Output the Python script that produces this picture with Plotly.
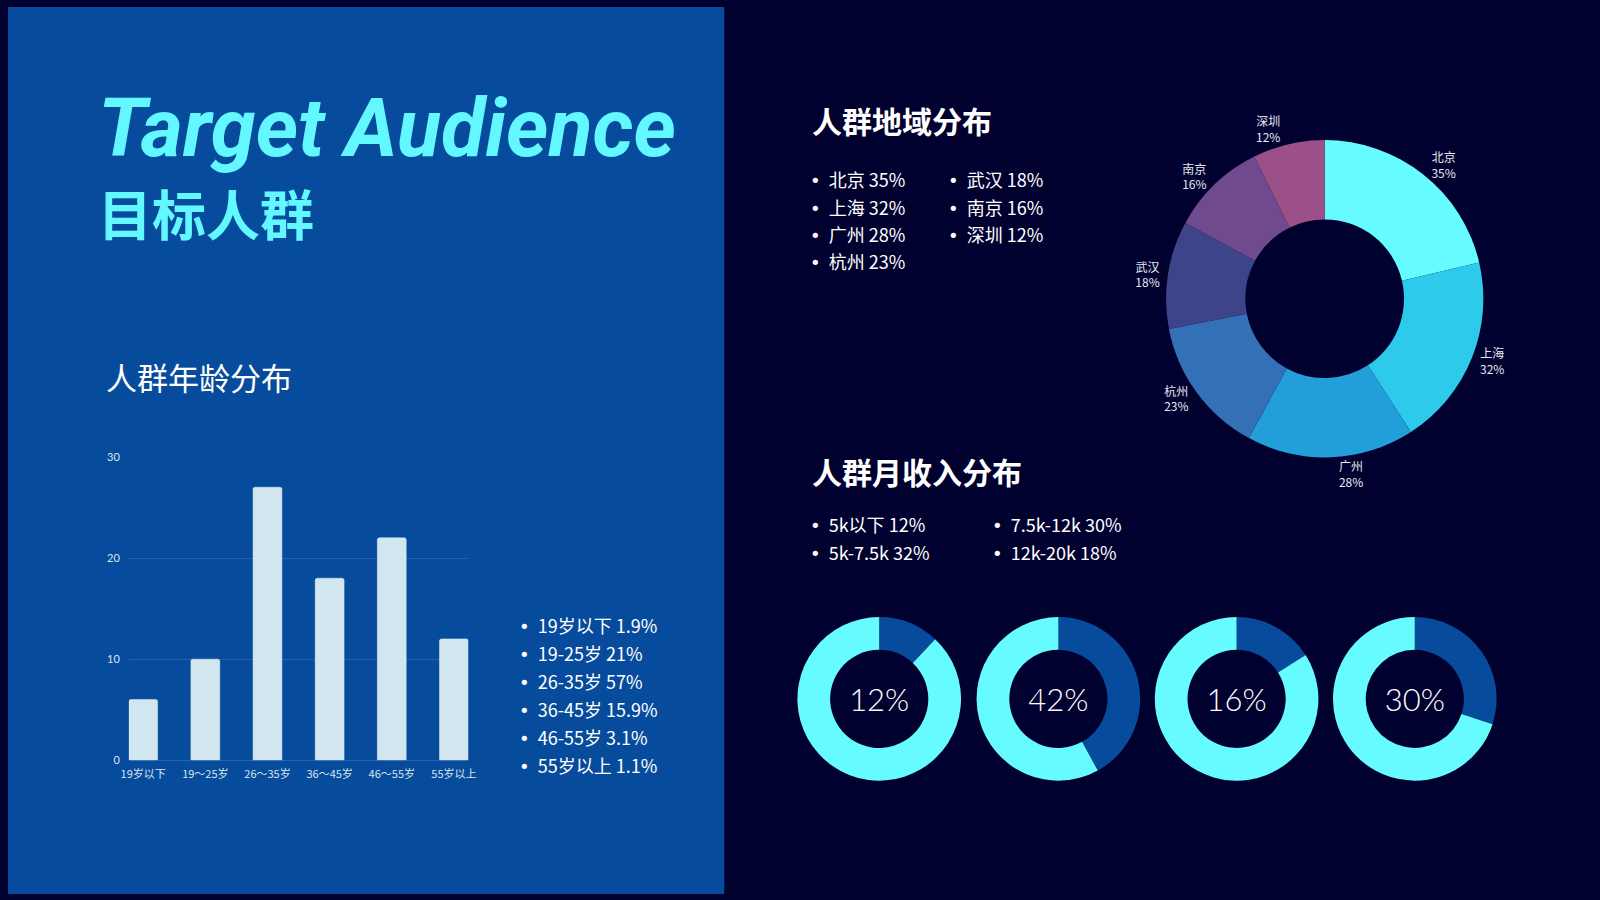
import plotly.graph_objects as go

# age distribution (bar chart)
age_groups = ["19岁以下", "19～25岁", "26～35岁", "36～45岁", "46～55岁", "55岁以上"]
age_counts = [6, 10, 27, 18, 22, 12]
age_list_labels = ["19岁以下", "19-25岁", "26-35岁", "36-45岁", "46-55岁", "55岁以上"]
age_list_shares = ["1.9%", "21%", "57%", "15.9%", "3.1%", "1.1%"]

# region distribution (donut)
regions = ["北京", "上海", "广州", "杭州", "武汉", "南京", "深圳"]
region_pct = [35, 32, 28, 23, 18, 16, 12]
region_colors = ["#66FBFF", "#2ECAEC", "#229ED9", "#3470B6", "#3E4489", "#6F4A8F", "#9B5089"]

# monthly income
income_labels = ["5k以下", "5k-7.5k", "7.5k-12k", "12k-20k"]
income_pct = [12, 32, 30, 18]
ring_values = [12, 42, 16, 30]

W, H = 1600, 900
BLUE = "#074C9C"
NAVY = "#00012E"
CYAN = "#63F7FF"
CJK = "Noto Sans CJK SC"
BULLET = '<span style="font-family:DejaVu Sans">•</span>'


def px(x, y):
    return x / W, 1 - y / H


fig = go.Figure()

fig.add_trace(go.Bar(
    x=age_groups, y=age_counts, width=0.464,
    marker=dict(color="#D2E6F0", cornerradius=2),
    xaxis="x", yaxis="y", showlegend=False,
))

# big region donut
cx, cy, r = 1330, 296, 161
fig.add_trace(go.Pie(
    labels=regions, values=region_pct, hole=0.5, sort=False,
    direction="clockwise", rotation=0,
    marker=dict(colors=region_colors, line=dict(width=0)),
    texttemplate="%{label}<br>%{value}%", textposition="outside",
    outsidetextfont=dict(family=CJK, size=12, color="#E6E8F2"),
    domain=dict(x=[(cx - r) / W, (cx + r) / W], y=[1 - (cy + r) / H, 1 - (cy - r) / H]),
    showlegend=False, hoverinfo="label+value",
))

# small income rings
ring_cx = [880, 1061, 1241, 1421]
rcy, rr = 702, 83
for c, v in zip(ring_cx, ring_values):
    fig.add_trace(go.Pie(
        values=[v, 100 - v], labels=["a", "b"], hole=0.6, sort=False,
        direction="clockwise", rotation=0, textinfo="none",
        marker=dict(colors=[BLUE, "#66FBFF"], line=dict(width=0)),
        domain=dict(x=[(c - rr) / W, (c + rr) / W], y=[1 - (rcy + rr) / H, 1 - (rcy - rr) / H]),
        title=dict(text=f"{v}%", position="middle center",
                   font=dict(family="Lato", size=31, color="white", weight=300)),
        showlegend=False,
    ))

annotations = []


def text(x, y, s, size, color="white", family=CJK, bold=False, italic=False, anchor="left"):
    ax, ay = px(x, y)
    annotations.append(dict(
        x=ax, y=ay, xref="paper", yref="paper", text=s, showarrow=False,
        xanchor=anchor, yanchor="middle",
        font=dict(family=family, size=size, color=color,
                  weight=700 if bold else 400, style="italic" if italic else "normal"),
    ))


text(89, 123, "Target Audience", 81, CYAN, family="Roboto", bold=True, italic=True)
text(89, 209, "目标人群", 54, CYAN, bold=True)
text(97, 375, "人群年龄分布", 31)
text(810, 115, "人群地域分布", 30, bold=True)
text(810, 471, "人群月收入分布", 30, bold=True)

for i, (lab, sh) in enumerate(zip(age_list_labels, age_list_shares)):
    text(514, 627 + 28.4 * i, f"{BULLET}  {lab} {sh}", 18)

for i, (lab, v) in enumerate(zip(regions, region_pct)):
    col, row = divmod(i, 4)
    text(808 + col * 139, 175 + 27.7 * row, f"{BULLET}  {lab} {v}%", 18)

for i, (lab, v) in enumerate(zip(income_labels, income_pct)):
    col, row = divmod(i, 2)
    text(808 + col * 184, 524.5 + 28.5 * row, f"{BULLET}  {lab} {v}%", 18)

fig.update_layout(
    width=W, height=H, margin=dict(l=0, r=0, t=0, b=0),
    paper_bgcolor=NAVY, plot_bgcolor="rgba(0,0,0,0)",
    annotations=annotations,
    shapes=[dict(type="rect", xref="paper", yref="paper", x0=0, x1=723.5 / W, y0=0, y1=1,
                 fillcolor=BLUE, line=dict(width=0), layer="below")],
    xaxis=dict(domain=[122 / W, 465 / W], range=[-0.232, 5.232], anchor="y",
               showgrid=False, zeroline=False, showline=False, ticks="", ticklabelstandoff=6,
               tickfont=dict(family=CJK, size=11, color="#D8E6F0")),
    yaxis=dict(domain=[1 - 764.3 / H, 1 - 456 / H], range=[0, 30.05], anchor="x",
               tickvals=[0, 10, 20, 30], gridcolor="rgba(255,255,255,0.13)", gridwidth=1,
               zeroline=True, zerolinecolor="rgba(255,255,255,0.13)", zerolinewidth=1,
               showline=False, ticks="", ticklabelstandoff=8,
               tickfont=dict(family="Lato", size=11, color="#D8E6F0")),
)

fig.write_html(
    "out.html",
    config={"displayModeBar": False},
    post_script=(
        "document.documentElement.style.cssText='margin:0;padding:0;overflow:hidden;';"
        "document.body.style.cssText='margin:0;padding:0;overflow:hidden;background:#00012E;';"
    ),
)
